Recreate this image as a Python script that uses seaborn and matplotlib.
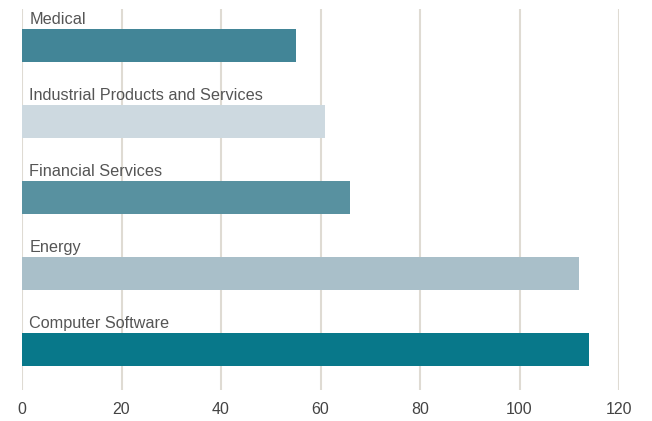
import matplotlib
matplotlib.use("Agg")
import matplotlib.pyplot as plt
import seaborn as sns
import pandas as pd

categories = ["Medical", "Industrial Products and Services", "Financial Services", "Energy", "Computer Software"]
values = [55, 61, 66, 112, 114]
colors = ["#428597", "#cdd9e0", "#5891a0", "#a9bfc9", "#08788a"]
xticks = [0, 20, 40, 60, 80, 100, 120]

sns.set_style("white")
plt.rcParams['font.family'] = ['Liberation Sans', 'DejaVu Sans']

df = pd.DataFrame({"category": categories, "value": values})

fig = plt.figure(figsize=(6.52, 4.21), dpi=100)
ax = fig.add_axes([22/652, 1-390/421, (619-22)/652, (390-9)/421])

sns.barplot(data=df, y="category", x="value", hue="category", palette=colors,
            width=0.43, legend=False, ax=ax, saturation=1, orient="h", linewidth=0)

ax.set_xlim(0, 120)
ax.set_ylim(4.53, -0.48)
ax.set_xticks(xticks)
ax.set_xticklabels([str(t) for t in xticks], fontsize=11.5, color="#444444")
ax.set_yticks([])
ax.set_xlabel("")
ax.set_ylabel("")
ax.tick_params(axis="x", length=0, pad=9)
ax.grid(axis="x", color="#dfdbd3", linewidth=1.5)
ax.set_axisbelow(True)
for s in ax.spines.values():
    s.set_visible(False)

for i, c in enumerate(categories):
    ax.text(1.5, i - 0.34, c, va="center", ha="left", fontsize=11.7, color="#555555")

fig.savefig("out.png", dpi=100)
